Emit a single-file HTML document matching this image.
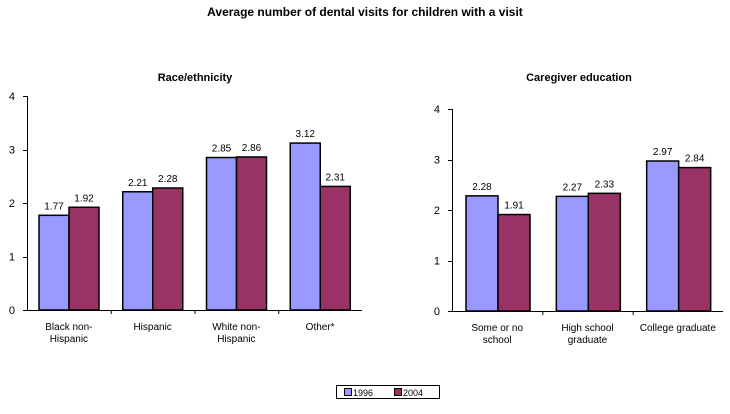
<!DOCTYPE html>
<html><head><meta charset="utf-8"><style>
body{margin:0;background:#fff;width:730px;height:409px;overflow:hidden}
svg{font-family:"Liberation Sans",Arial,sans-serif}
</style></head><body>
<svg id="c" width="730" height="409">
<text x="365" y="16" text-anchor="middle" font-size="12" font-weight="bold">Average number of dental visits for children with a visit</text>
<text x="195" y="81" text-anchor="middle" font-size="11" font-weight="bold">Race/ethnicity</text>
<text x="579" y="81" text-anchor="middle" font-size="11" font-weight="bold">Caregiver education</text>
<g>
<rect x="336.5" y="385.5" width="103" height="13" fill="#fff" stroke="#000"/>
<rect x="344.5" y="388.5" width="7" height="7" fill="#9999ff" stroke="#000"/>
<text x="353" y="396" font-size="9">1996</text>
<rect x="394.5" y="388.5" width="7" height="7" fill="#993366" stroke="#000"/>
<text x="403" y="396" font-size="9">2004</text>
</g>
</svg>
<script>
const leftCategories=[["Black non-","Hispanic"],["Hispanic"],["White non-","Hispanic"],["Other*"]];
const left1996=[1.77,2.21,2.85,3.12];
const left2004=[1.92,2.28,2.86,2.31];
const rightCategories=[["Some or no","school"],["High school","graduate"],["College graduate"]];
const right1996=[2.28,2.27,2.97];
const right2004=[1.91,2.33,2.84];
const yTicks=[0,1,2,3,4];
const svg=document.getElementById('c');const NS='http://www.w3.org/2000/svg';
function el(t,a,p){const e=document.createElementNS(NS,t);for(const k in a)e.setAttribute(k,a[k]);(p||svg).appendChild(e);return e;}
function panel(name,x0,x1,y0,y4,cats,a,b,bw,off){
 const g=el('g',{});
 
 
 const y=v=>y0-(y0-y4)*v/4;const cw=(x1-x0)/cats.length;
 el('line',{x1:x0+.5,y1:y4,x2:x0+.5,y2:y0,stroke:'#000'},g);
 el('line',{x1:x0,y1:y0+.5,x2:x1,y2:y0+.5,stroke:'#000'},g);
 yTicks.forEach(t=>{el('line',{x1:x0-4,x2:x0,y1:Math.round(y(t))+.5,y2:Math.round(y(t))+.5,stroke:'#000'},g);
  const tx=el('text',{x:x0-12,y:y(t)+4,'text-anchor':'end','font-size':11},g);tx.textContent=t;
  
  });
 cats.forEach((c,i)=>{const cx=x0+cw*i;
  if(i>0)el('line',{x1:cx+.5,x2:cx+.5,y1:y0,y2:y0+4,stroke:'#000'},g);
  [[a[i],'#9999ff','1996'],[b[i],'#993366','2004']].forEach((s,j)=>{
   const bx=cx+off+j*bw;
   const r=el('rect',{x:bx,y:y(s[0]),width:bw,height:y0-y(s[0]),fill:s[1],stroke:'#000','stroke-width':1.5},g);
   
   
   const l=el('text',{x:bx+bw/2,y:y(s[0])-6,'text-anchor':'middle','font-size':10},g);l.textContent=s[0].toFixed(2);
   
   });
  c.forEach((ln,k)=>{const t=el('text',{x:cx+cw/2,y:y0+20+k*12,'text-anchor':'middle','font-size':10},g);t.textContent=ln;
   
   });
 });
}
panel('race',27,362,310,96,leftCategories,left1996,left2004,30,12);
panel('education',452,723,311,109,rightCategories,right1996,right2004,32,14);
</script>
</body></html>
